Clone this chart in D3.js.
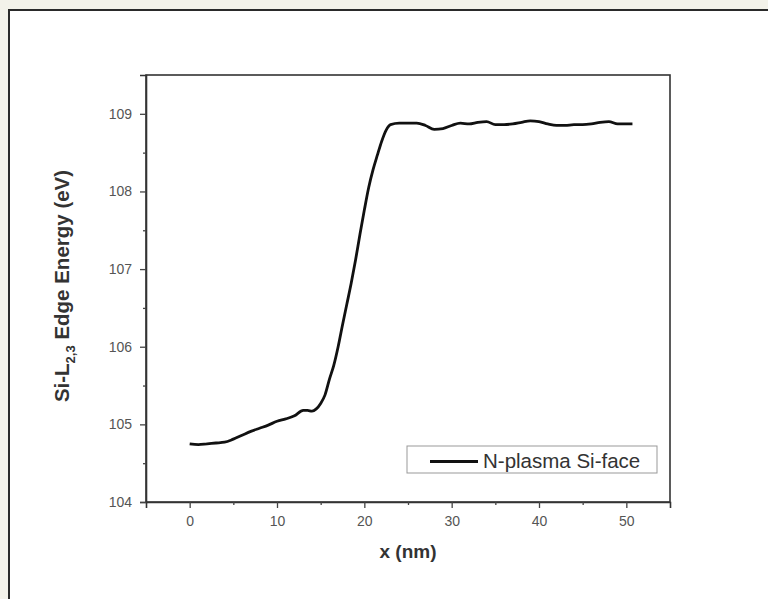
<!DOCTYPE html>
<html><head><meta charset="utf-8">
<script src="https://cdn.jsdelivr.net/npm/d3@7"></script>
<style>
html,body{margin:0;padding:0;background:#f3f2ea;}
svg{display:block;}
</style></head>
<body>
<script>
// Data
const xValues = [0,1,2,3,4,5,6,7,8,9,10,11,12,13,13.5,14,14.5,15,15.5,16,16.5,17,17.5,18,18.5,19,19.5,20,20.5,21,21.5,22,22.5,23,24,25,26,27,28,29,30,31,32,33,34,35,36,37,38,39,40,41,42,43,44,45,46,47,48,49,50,50.7];
const edgeEnergy = [104.75,104.74,104.75,104.76,104.77,104.81,104.86,104.91,104.95,104.99,105.04,105.07,105.11,105.18,105.18,105.17,105.20,105.27,105.38,105.58,105.76,106.00,106.28,106.55,106.82,107.12,107.45,107.76,108.05,108.28,108.47,108.65,108.79,108.86,108.88,108.88,108.88,108.85,108.80,108.81,108.85,108.88,108.87,108.89,108.90,108.86,108.86,108.87,108.89,108.91,108.90,108.87,108.85,108.85,108.86,108.86,108.87,108.89,108.90,108.87,108.87,108.87];
const seriesName = "N-plasma Si-face";
const xTicks = [0,10,20,30,40,50];
const xMinorTicks = [5,15,25,35,45];
const yTicks = [104,105,106,107,108,109];
const yMinorTicks = [104.5,105.5,106.5,107.5,108.5];

(function(){
const W = 768, H = 599;
const svg = d3.select("body").append("svg").attr("width", W).attr("height", H);

// white panel with border on left/top
svg.append("rect").attr("x", 9).attr("y", 10).attr("width", W).attr("height", H).attr("fill", "#fff");
svg.append("path").attr("d", `M9,${H} L9,10 L${W},10`).attr("fill", "none").attr("stroke", "#2a2a2a").attr("stroke-width", 2);

const mL = 146, mR = 670, mT = 75, mB = 502;
const x = d3.scaleLinear().domain([-5, 55]).range([mL, mR]);
const y = d3.scaleLinear().domain([104, 109.5]).range([mB, mT]);

const font = "Liberation Sans, Arial, sans-serif";

// frame
svg.append("rect").attr("x", mL).attr("y", mT).attr("width", mR-mL).attr("height", mB-mT)
  .attr("fill", "none").attr("stroke", "#333").attr("stroke-width", 1.6);

// X axis
const xAxis = d3.axisBottom(x).tickValues(xTicks).tickSize(6).tickPadding(8).tickFormat(d3.format("d"));
const gx = svg.append("g").attr("transform", `translate(0,${mB})`).call(xAxis);
gx.select(".domain").attr("stroke", "#333").attr("stroke-width", 1.6);
gx.selectAll(".tick line").attr("stroke", "#444").attr("stroke-width", 1.3);
gx.selectAll(".tick text").attr("font-family", font).attr("font-size", 14).attr("fill", "#555");
const gxm = svg.append("g").attr("transform", `translate(0,${mB})`)
  .call(d3.axisBottom(x).tickValues(xMinorTicks).tickSize(3).tickFormat(""));
gxm.select(".domain").remove();
gxm.selectAll(".tick line").attr("stroke", "#444").attr("stroke-width", 1.3);

// Y axis
const yAxis = d3.axisLeft(y).tickValues(yTicks).tickSize(6).tickPadding(8).tickFormat(d3.format("d"));
const gy = svg.append("g").attr("transform", `translate(${mL},0)`).call(yAxis);
gy.select(".domain").attr("stroke", "#333").attr("stroke-width", 1.6);
gy.selectAll(".tick line").attr("stroke", "#444").attr("stroke-width", 1.3);
gy.selectAll(".tick text").attr("font-family", font).attr("font-size", 14).attr("fill", "#555");
const gym = svg.append("g").attr("transform", `translate(${mL},0)`)
  .call(d3.axisLeft(y).tickValues(yMinorTicks).tickSize(3).tickFormat(""));
gym.select(".domain").remove();
gym.selectAll(".tick line").attr("stroke", "#444").attr("stroke-width", 1.3);

// Axis titles
svg.append("text").attr("x", 408).attr("y", 558).attr("text-anchor", "middle")
  .attr("font-family", font).attr("font-weight", "bold").attr("font-size", 19).attr("fill", "#333")
  .text("x (nm)");

const yt = svg.append("text").attr("transform", `translate(69,286) rotate(-90)`)
  .attr("text-anchor", "middle").attr("font-family", font).attr("font-weight", "bold")
  .attr("font-size", 20.5).attr("fill", "#333");
yt.append("tspan").text("Si-L");
yt.append("tspan").attr("font-size", 13).attr("dy", 6).text("2,3");
yt.append("tspan").attr("dy", -6).text(" Edge Energy (eV)");

// Line
const data = xValues.map((v, i) => ({x: v, y: edgeEnergy[i]}));
const line = d3.line().x(d => x(d.x)).y(d => y(d.y)).curve(d3.curveMonotoneX);
svg.append("path").datum(data).attr("d", line).attr("fill", "none")
  .attr("stroke", "#111").attr("stroke-width", 2.8).attr("stroke-linejoin", "round");

// Legend
const lg = svg.append("g");
lg.append("rect").attr("x", 407).attr("y", 446).attr("width", 250).attr("height", 27)
  .attr("fill", "#fff").attr("stroke", "#999").attr("stroke-width", 1);
lg.append("line").attr("x1", 430).attr("x2", 478).attr("y1", 461.5).attr("y2", 461.5)
  .attr("stroke", "#111").attr("stroke-width", 2.8);
lg.append("text").attr("x", 483).attr("y", 468).attr("font-family", font).attr("font-size", 20.5)
  .attr("fill", "#333").text(seriesName);
})();
</script>
</body></html>
